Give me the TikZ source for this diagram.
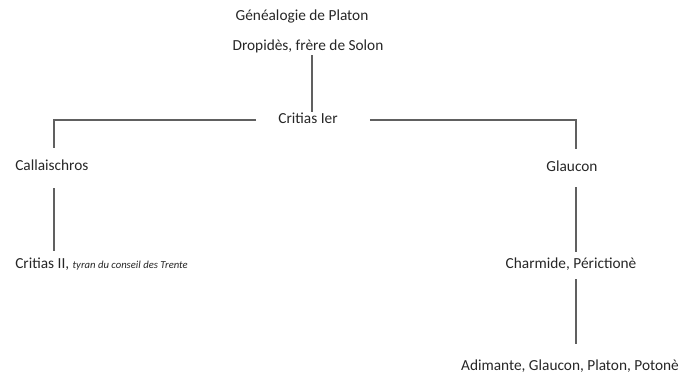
\documentclass[tikz,border=0pt]{standalone}
\usepackage{fontspec}
\setmainfont{Carlito}
\definecolor{txt}{HTML}{262626}
\definecolor{ln}{HTML}{606060}
\begin{document}
\begin{tikzpicture}[x=0.75pt,y=-0.75pt,
  lbl/.style={inner sep=0pt,text height=8pt,text depth=2.3pt,text=txt,font=\fontsize{11.5}{13}\selectfont},
  link/.style={draw=ln,line width=1pt}]
\useasboundingbox (0,0) rectangle (683,373);
\node[lbl] (title) at (302,17) {Généalogie de Platon};
\node[lbl] (drop) at (308,47) {Dropidès, frère de Solon};
\node[lbl] (crit1) at (308,120) {Critias Ier};
\node[lbl,anchor=west] (callais) at (15,167) {Callaischros};
\node[lbl,anchor=west] (crit2) at (15,265) {Critias II, {\fontsize{8}{9}\selectfont\itshape tyran du conseil des Trente}};
\node[lbl] (glaucon) at (572,168) {Glaucon};
\node[lbl] (charm) at (571,265) {Charmide, Périctionè};
\node[lbl] (adim) at (570,367) {Adimante, Glaucon, Platon, Potonè};
\coordinate (xD) at (312,0);
\coordinate (xL) at (54,0);
\coordinate (xR) at (576,0);
\draw[link,shorten <=0.8pt,shorten >=0.8pt] (drop.south -| xD) -- (crit1.north -| xD);
\draw[link,shorten <=16.5pt,shorten >=9.05pt] (crit1.west) -| (callais.north -| xL);
\draw[link,shorten <=24pt,shorten >=9.05pt] (crit1.east) -| (glaucon.north -| xR);
\draw[link,shorten <=10.55pt,shorten >=5.3pt] (callais.south -| xL) -- (crit2.north -| xL);
\draw[link,shorten <=9.05pt,shorten >=4.55pt] (glaucon.south -| xR) -- (charm.north -| xR);
\draw[link,shorten <=5.3pt,shorten >=12.05pt] (charm.south -| xR) -- (adim.north -| xR);
\end{tikzpicture}
\end{document}
